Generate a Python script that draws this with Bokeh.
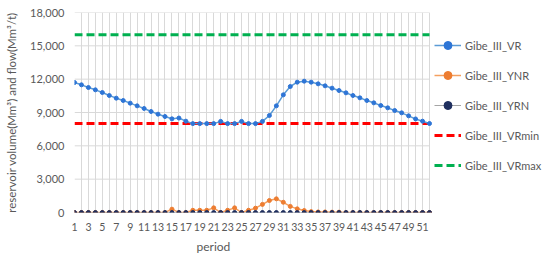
from bokeh.plotting import figure
from bokeh.models import Range1d, FixedTicker, Legend, LegendItem, NumeralTickFormatter, ColumnDataSource, Title
from bokeh.embed import file_html
from bokeh.resources import INLINE

periods = list(range(1, 53))
vr = [11700, 11490, 11250, 11040, 10800, 10530, 10290, 10080, 9840, 9600,
      9360, 9090, 8850, 8640, 8430, 8500, 8220, 8000, 8000, 8000,
      8000, 8200, 8000, 8000, 8200, 8000, 8000, 8200, 8730, 9600,
      10590, 11340, 11730, 11820, 11730, 11580, 11400, 11190, 10980, 10770,
      10530, 10320, 10080, 9870, 9630, 9420, 9180, 8970, 8700, 8420,
      8220, 8010]
ynr = [0, 0, 0, 0, 0, 0, 0, 0, 0, 0,
       0, 0, 0, 0, 300, 0, 0, 200, 200, 200,
       420, 0, 200, 420, 0, 200, 390, 730, 1080, 1230,
       920, 550, 330, 180, 80, 50, 50, 30, 30, 0,
       0, 0, 0, 0, 0, 0, 0, 0, 0, 0,
       0, 0]
yrn = [0, 0, 0, 0, 0, 0, 0, 0, 0, 0,
       0, 0, 0, 0, 0, 0, 0, 0, 0, 0,
       0, 0, 0, 0, 0, 0, 0, 0, 0, 0,
       0, 0, 0, 0, 0, 0, 0, 0, 0, 0,
       0, 0, 0, 0, 0, 0, 0, 0, 0, 0,
       0, 0]
vrmin = [8000, 8000, 8000, 8000, 8000, 8000, 8000, 8000, 8000, 8000,
         8000, 8000, 8000, 8000, 8000, 8000, 8000, 8000, 8000, 8000,
         8000, 8000, 8000, 8000, 8000, 8000, 8000, 8000, 8000, 8000,
         8000, 8000, 8000, 8000, 8000, 8000, 8000, 8000, 8000, 8000,
         8000, 8000, 8000, 8000, 8000, 8000, 8000, 8000, 8000, 8000,
         8000, 8000]
vrmax = [16000, 16000, 16000, 16000, 16000, 16000, 16000, 16000, 16000, 16000,
         16000, 16000, 16000, 16000, 16000, 16000, 16000, 16000, 16000, 16000,
         16000, 16000, 16000, 16000, 16000, 16000, 16000, 16000, 16000, 16000,
         16000, 16000, 16000, 16000, 16000, 16000, 16000, 16000, 16000, 16000,
         16000, 16000, 16000, 16000, 16000, 16000, 16000, 16000, 16000, 16000,
         16000, 16000]
x_tick_values = [1, 3, 5, 7, 9, 11, 13, 15, 17, 19, 21, 23, 25, 27, 29, 31, 33,
                 35, 37, 39, 41, 43, 45, 47, 49, 51]
y_tick_values = [0, 3000, 6000, 9000, 12000, 15000, 18000]
series_names = ["Gibe_III_VR", "Gibe_III_YNR", "Gibe_III_YRN", "Gibe_III_VRmin", "Gibe_III_VRmax"]
x_title = "period"
y_title = "reservoir volume(Mm³) and flow(Mm³/t)"

FONT = "Lato"
TXT = "#595959"
GRID = "#D9D9D9"

W, H = 550, 256
LEFT, TOP, BOTTOM = 74, 12, 44
PLOT_RIGHT_PX = 429  # pixel where the last period sits
# frame extends to the right edge so the legend (inside the frame) is not clipped
x_end = periods[0] + (periods[-1] - periods[0]) * (W - LEFT) / (PLOT_RIGHT_PX - LEFT)

src = ColumnDataSource(dict(period=periods, vr=vr, ynr=ynr, yrn=yrn, vrmin=vrmin, vrmax=vrmax))
grid_src = ColumnDataSource(dict(y=y_tick_values,
                                 x0=[periods[0]] * len(y_tick_values),
                                 x1=[periods[-1]] * len(y_tick_values)))

p = figure(width=W, height=H, output_backend="svg", toolbar_location=None,
           x_range=Range1d(periods[0], x_end), y_range=Range1d(0, 18000),
           min_border_left=LEFT, min_border_right=0, min_border_top=TOP, min_border_bottom=BOTTOM)
p.outline_line_color = None
p.background_fill_color = "white"
p.border_fill_color = "white"

p.xaxis.ticker = FixedTicker(ticks=x_tick_values)
p.xgrid.ticker = FixedTicker(ticks=periods)
p.yaxis.ticker = FixedTicker(ticks=y_tick_values)
p.yaxis.formatter = NumeralTickFormatter(format="0,0")
p.xgrid.grid_line_color = GRID
p.ygrid.visible = False
p.segment(x0="x0", x1="x1", y0="y", y1="y", source=grid_src, line_color=GRID, line_width=1, level="underlay")
for ax in (p.xaxis, p.yaxis):
    ax.axis_line_color = None
    ax.major_tick_line_color = None
    ax.minor_tick_line_color = None
    ax.major_tick_out = 0
    ax.major_tick_in = 0
    ax.minor_tick_out = 0
    ax.minor_tick_in = 0
    ax.major_label_text_font = FONT
    ax.major_label_text_font_size = "11px"
    ax.major_label_text_color = TXT
    ax.axis_label_text_font = FONT
    ax.axis_label_text_font_size = "11.5px"
    ax.axis_label_text_color = TXT
    ax.axis_label_text_font_style = "normal"
p.xaxis.major_label_text_font_size = "10.5px"
p.xaxis.major_label_standoff = 10
p.yaxis.major_label_standoff = 10
p.yaxis.axis_label = y_title
p.yaxis.axis_label_standoff = 9

p.add_layout(Title(text=x_title, align="left", offset=122, standoff=6,
                   text_font=FONT, text_font_size="12px", text_font_style="normal",
                   text_color=TXT), "below")

r_min = p.line("period", "vrmin", source=src, line_color="#FF0000", line_width=3, line_dash="8 4")
r_max = p.line("period", "vrmax", source=src, line_color="#00B050", line_width=3, line_dash="8 4")
l_vr = p.line("period", "vr", source=src, line_color="#5B9BD5", line_width=1.5)
m_vr = p.scatter("period", "vr", source=src, size=4, fill_color="#2E75D6", line_color="#2E75D6")
l_ynr = p.line("period", "ynr", source=src, line_color="#F4A060", line_width=1.5)
m_ynr = p.scatter("period", "ynr", source=src, size=4, fill_color="#ED7D31", line_color="#ED7D31")
l_yrn = p.line("period", "yrn", source=src, line_color="#A5A5A5", line_width=1)
m_yrn = p.scatter("period", "yrn", source=src, size=4, fill_color="#1F2F5F", line_color="#1F2F5F")

legend = Legend(items=[
    LegendItem(label=series_names[0], renderers=[l_vr, m_vr]),
    LegendItem(label=series_names[1], renderers=[l_ynr, m_ynr]),
    LegendItem(label=series_names[2], renderers=[l_yrn, m_yrn]),
    LegendItem(label=series_names[3], renderers=[r_min]),
    LegendItem(label=series_names[4], renderers=[r_max]),
], location=(360, 37), orientation="vertical",
    glyph_width=27, glyph_height=20, label_height=20, spacing=10,
    label_standoff=4, padding=0, margin=0,
    border_line_color=None, background_fill_alpha=0,
    label_text_font=FONT, label_text_font_size="11px", label_text_color=TXT)
p.add_layout(legend, "center")

open("out.html", "w").write(file_html(p, INLINE))
